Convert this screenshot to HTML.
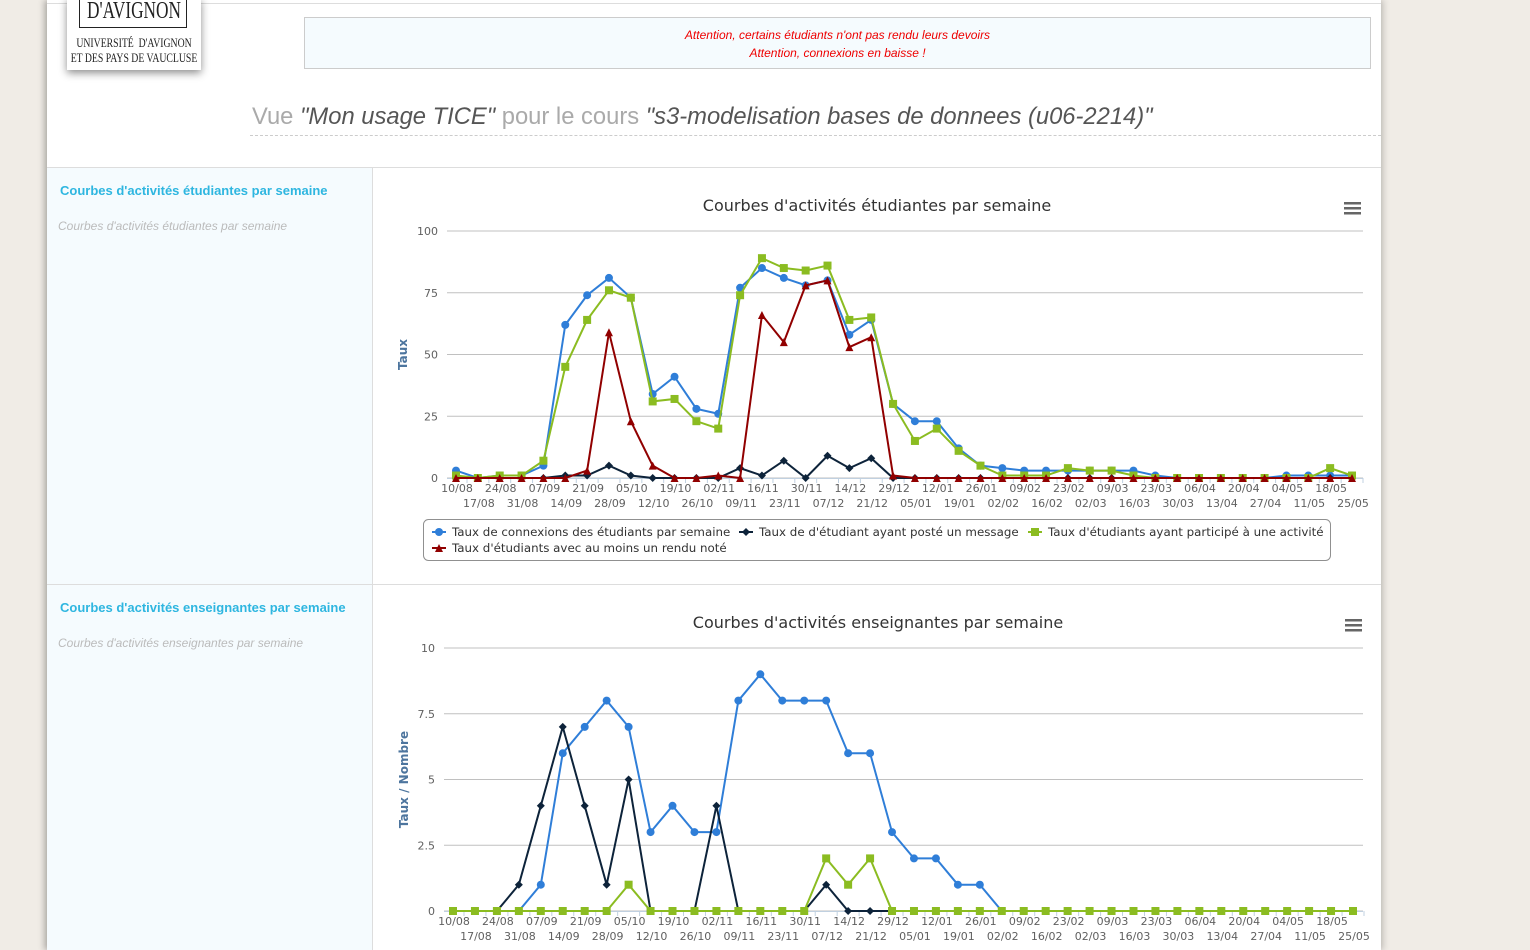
<!DOCTYPE html>
<html><head><meta charset="utf-8"><style>
body{margin:0;width:1530px;height:950px;overflow:hidden;background:#f0ece6;font-family:"Liberation Sans",sans-serif;position:relative}
#main{position:absolute;left:47px;top:0;width:1334px;height:950px;background:#fff;box-shadow:-3px 0 6px rgba(0,0,0,.25),3px 0 6px rgba(0,0,0,.15)}
.abs{position:absolute}
</style></head><body>
<div id="main">
 <div class="abs" style="left:0;top:3px;width:1334px;height:1px;background:#ddd"></div>
 <div class="abs" style="left:20px;top:-2px;width:134px;height:72px;background:#fff;box-shadow:0 3px 8px rgba(0,0,0,.45);font-family:'Liberation Serif',serif;text-align:center;color:#222;overflow:hidden">
  <div style="position:absolute;left:12px;top:0;width:108px;height:30px;border:1px solid #222;border-top:none;box-sizing:border-box"></div>
  <div style="position:absolute;left:-20px;width:174px;top:0;font-size:24px;line-height:26px;transform:scaleX(.72);white-space:nowrap">D'AVIGNON</div>
  <div style="position:absolute;left:-30px;width:194px;top:37px;font-size:13px;line-height:15px;transform:scaleX(.75);white-space:nowrap">UNIVERSITÉ &nbsp;D'AVIGNON<br>ET DES PAYS DE VAUCLUSE</div>
 </div>
 <div class="abs" style="left:257px;top:17px;width:1067px;height:52px;background:#f5fbfe;border:1px solid #ccc;text-align:center;color:#e00;font-size:12px;font-style:italic;line-height:18px;padding-top:8px;box-sizing:border-box">
  <div>Attention, certains étudiants n'ont pas rendu leurs devoirs</div>
  <div>Attention, connexions en baisse !</div>
 </div>
 <div class="abs" style="left:205px;top:103px;font-size:24px;color:#aaa;white-space:nowrap;transform:scaleX(.99);transform-origin:left">Vue <i style="color:#555">"Mon usage TICE"</i> pour le cours <i style="color:#555">"s3-modelisation bases de donnees (u06-2214)"</i></div>
 <div class="abs" style="left:203px;top:135px;width:1131px;border-top:1px dashed #ccc"></div>
 <div class="abs" style="left:0;top:167px;width:1334px;height:1px;background:#ddd"></div>
 <div class="abs" style="left:0;top:168px;width:325px;height:416px;background:#f5fbfe;border-right:1px solid #ddd">
  <div style="position:absolute;left:13px;top:15px;color:#2eb6e0;font-weight:bold;font-size:13px">Courbes d'activités étudiantes par semaine</div>
  <div style="position:absolute;left:11px;top:51px;color:#bbb;font-style:italic;font-size:12px">Courbes d'activités étudiantes par semaine</div>
 </div>
 <div class="abs" style="left:0;top:584px;width:1334px;height:1px;background:#ddd"></div>
 <div class="abs" style="left:0;top:585px;width:325px;height:365px;background:#f5fbfe;border-right:1px solid #ddd">
  <div style="position:absolute;left:13px;top:15px;color:#2eb6e0;font-weight:bold;font-size:13px">Courbes d'activités enseignantes par semaine</div>
  <div style="position:absolute;left:11px;top:51px;color:#bbb;font-style:italic;font-size:12px">Courbes d'activités enseignantes par semaine</div>
 </div>
</div>
<svg id="charts" width="1530" height="950" style="position:absolute;left:0;top:0" font-family="'DejaVu Sans',sans-serif"></svg>
<script>
const weeks=["10/08","17/08","24/08","31/08","07/09","14/09","21/09","28/09","05/10","12/10","19/10","26/10","02/11","09/11","16/11","23/11","30/11","07/12","14/12","21/12","29/12","05/01","12/01","19/01","26/01","02/02","09/02","16/02","23/02","02/03","09/03","16/03","23/03","30/03","06/04","13/04","20/04","27/04","04/05","11/05","18/05","25/05"];
const s1Connexions=[3,0,1,1,5,62,74,81,73,34,41,28,26,77,85,81,78,80,58,64,30,23,23,12,5,4,3,3,3,3,3,3,1,0,0,0,0,0,1,1,1,1];
const s1Messages=[0,0,0,0,0,1,1,5,1,0,0,0,0,4,1,7,0,9,4,8,0,0,0,0,0,0,0,0,0,0,0,0,0,0,0,0,0,0,0,0,0,0];
const s1Activite=[1,0,1,1,7,45,64,76,73,31,32,23,20,74,89,85,84,86,64,65,30,15,20,11,5,1,1,1,4,3,3,1,0,0,0,0,0,0,0,0,4,1];
const s1Rendu=[0,0,0,0,0,0,3,59,23,5,0,0,1,0,66,55,78,80,53,57,1,0,0,0,0,0,0,0,0,0,0,0,0,0,0,0,0,0,0,0,0,0];
const s1Ticks=[0,25,50,75,100];
const s2Connexions=[0,0,0,0,1,6,7,8,7,3,4,3,3,8,9,8,8,8,6,6,3,2,2,1,1,0,0,0,0,0,0,0,0,0,0,0,0,0,0,0,0,0];
const s2Messages=[0,0,0,1,4,7,4,1,5,0,0,0,4,0,0,0,0,1,0,0,0,0,0,0,0,0,0,0,0,0,0,0,0,0,0,0,0,0,0,0,0,0];
const s2Activite=[0,0,0,0,0,0,0,0,1,0,0,0,0,0,0,0,0,2,1,2,0,0,0,0,0,0,0,0,0,0,0,0,0,0,0,0,0,0,0,0,0,0];
const s2Ticks=[0,2.5,5,7.5,10];
const s2TickLabels=["0","2.5","5","7.5","10"];

const NS="http://www.w3.org/2000/svg";
const root=document.getElementById('charts');
function mk(tag,attrs,parent){const e=document.createElementNS(NS,tag);for(const k in attrs)e.setAttribute(k,attrs[k]);(parent||root).appendChild(e);return e;}
function txt(s,attrs,parent){const e=mk('text',attrs,parent);e.textContent=s;return e;}
const colors={blue:"#2f7ed8",dark:"#0d233a",green:"#8bbc21",red:"#910000"};
function marker(g,type,x,y,c){
 let e;
 if(type==='circle')e=mk('circle',{cx:x,cy:y,r:4,fill:c},g);
 else if(type==='diamond')e=mk('path',{d:`M${x} ${y-4}L${x+4} ${y}L${x} ${y+4}L${x-4} ${y}Z`,fill:c},g);
 else if(type==='square')e=mk('rect',{x:x-4,y:y-4,width:8,height:8,fill:c},g);
 else e=mk('path',{d:`M${x} ${y-4}L${x+4} ${y+4}L${x-4} ${y+4}Z`,fill:c},g);
 return e;
}
function chart(cfg){
 const g=mk('g',{});
 
 
 const xs=i=>cfg.x0+i*(cfg.x1-cfg.x0)/(weeks.length-1);
 const ys=v=>cfg.yb-(v-cfg.ymin)/(cfg.ymax-cfg.ymin)*(cfg.yb-cfg.yt);
 const t=txt(cfg.title,{x:cfg.tx,y:cfg.ty,'text-anchor':'middle','font-size':16,fill:'#333'},g);
 
 
 const menu=mk('g',{},g);
 
 
 for(let k=0;k<3;k++)mk('rect',{x:cfg.mx-8,y:cfg.my-6+k*5,width:17,height:2.5,fill:'#666'},menu);
 cfg.ticks.forEach((v,i)=>{
  const gl=mk('line',{x1:cfg.px0,x2:cfg.px1,y1:ys(v),y2:ys(v),stroke:'#c0c0c0','stroke-width':1},g);
  
  
  const tl=txt(cfg.tickLabels[i],{x:cfg.px0-9,y:ys(v)+4,'text-anchor':'end','font-size':11,fill:'#606060'},g);
  
  
 });
 const ax=mk('line',{x1:cfg.px0,x2:cfg.px1,y1:cfg.yb+0.5,y2:cfg.yb+0.5,stroke:'#c0d0e0'},g);
 
 
 weeks.forEach((w,i)=>{
  const x=xs(i);
  mk('line',{x1:x+11,x2:x+11,y1:cfg.yb,y2:cfg.yb+5,stroke:'#c0d0e0'},g);
  const l=txt(w,{x:x+1,y:cfg.yb+14+(i%2)*15,'text-anchor':'middle','font-size':11,fill:'#606060'},g);
  
  
 });
 const yt=txt(cfg.ytitle,{x:0,y:0,transform:`translate(${cfg.ytx},${(cfg.yt+cfg.yb)/2}) rotate(-90)`,'text-anchor':'middle','font-size':12,'font-weight':'bold',fill:'#4d759e'},g);
 
 
 cfg.series.forEach(s=>{
  const sg=mk('g',{},g);
  
  
  const pts=s.data.map((v,i)=>xs(i)+','+ys(v)).join(' ');
  mk('polyline',{points:pts,fill:'none',stroke:colors[s.color],'stroke-width':2},sg);
  s.data.forEach((v,i)=>{
   const m=marker(sg,s.marker,xs(i),ys(v),colors[s.color]);
   
   
  });
 });
 return g;
}
chart({name:'student-activity-chart',title:"Courbes d'activités étudiantes par semaine",tx:877,ty:211,mx:1352,my:208,
 x0:456,x1:1352,px0:447,px1:1363,yt:231,yb:478,ymin:0,ymax:100,ticks:s1Ticks,tickLabels:s1Ticks.map(String),ytitle:'Taux',ytx:407,
 series:[{name:'series-connexions',data:s1Connexions,color:'blue',marker:'circle'},{name:'series-messages',data:s1Messages,color:'dark',marker:'diamond'},{name:'series-activite',data:s1Activite,color:'green',marker:'square'},{name:'series-rendu',data:s1Rendu,color:'red',marker:'triangle'}]});
chart({name:'teacher-activity-chart',title:"Courbes d'activités enseignantes par semaine",tx:878,ty:628,mx:1353,my:625,
 x0:453,x1:1353,px0:444,px1:1363,yt:648,yb:911,ymin:0,ymax:10,ticks:s2Ticks,tickLabels:s2TickLabels,ytitle:'Taux / Nombre',ytx:408,
 series:[{name:'series-connexions-ens',data:s2Connexions,color:'blue',marker:'circle'},{name:'series-messages-ens',data:s2Messages,color:'dark',marker:'diamond'},{name:'series-activite-ens',data:s2Activite,color:'green',marker:'square'}]});
const lg=mk('g',{});


mk('rect',{x:423.5,y:519.5,width:907,height:41,rx:5,fill:'none',stroke:'#909090'},lg);
const items=[["Taux de connexions des étudiants par semaine",'blue','circle',432,536],["Taux de d'étudiant ayant posté un message",'dark','diamond',739,536],["Taux d'étudiants ayant participé à une activité",'green','square',1028,536],["Taux d'étudiants avec au moins un rendu noté",'red','triangle',432,552]];
items.forEach(it=>{
 const e=mk('g',{},lg);
 
 
 mk('line',{x1:it[3],x2:it[3]+14,y1:it[4]-4,y2:it[4]-4,stroke:colors[it[1]],'stroke-width':2},e);
 marker(e,it[2],it[3]+7,it[4]-4,colors[it[1]]);
 txt(it[0],{x:it[3]+20,y:it[4],'font-size':11.85,fill:'#333'},e);
});
</script>
</body></html>
